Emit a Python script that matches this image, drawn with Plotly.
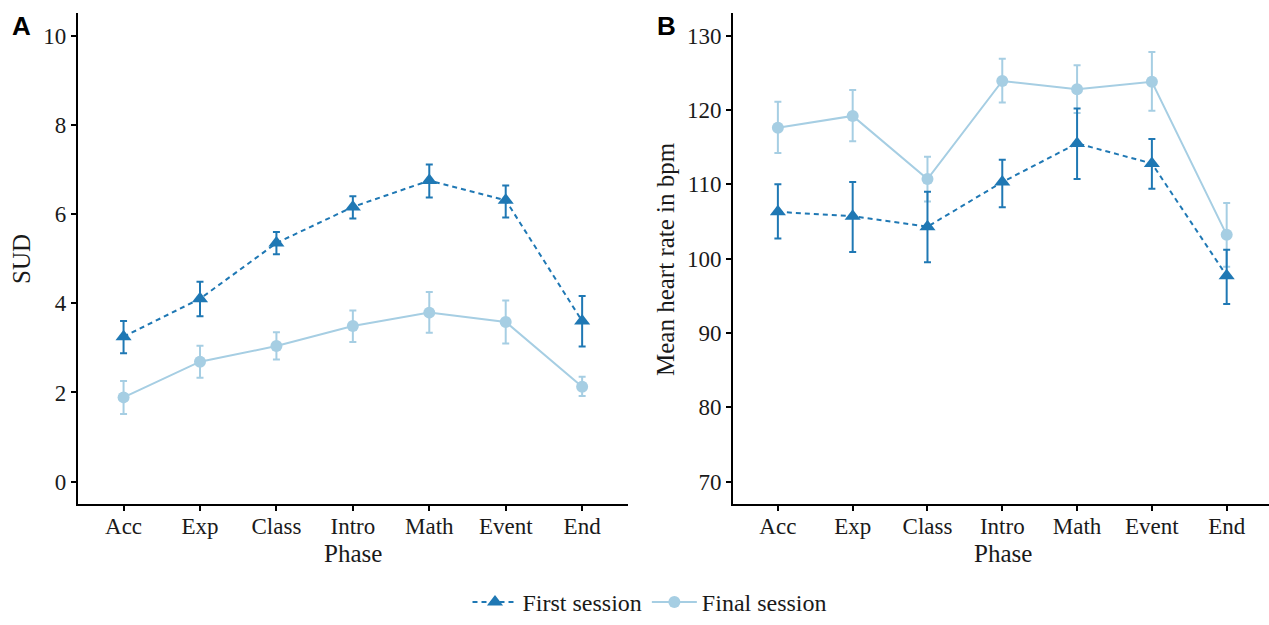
import plotly.graph_objects as go

phases = ["Acc", "Exp", "Class", "Intro", "Math", "Event", "End"]

# Panel A: SUD
sud_first = [3.25, 4.10, 5.35, 6.16, 6.75, 6.31, 3.60]
sud_first_hi = [3.60, 4.48, 5.60, 6.40, 7.11, 6.64, 4.16]
sud_first_lo = [2.88, 3.71, 5.10, 5.90, 6.37, 5.92, 3.03]
sud_final = [1.89, 2.69, 3.04, 3.49, 3.79, 3.58, 2.13]
sud_final_hi = [2.26, 3.05, 3.35, 3.84, 4.25, 4.06, 2.35]
sud_final_lo = [1.52, 2.33, 2.74, 3.13, 3.34, 3.10, 1.92]

# Panel B: mean heart rate
hr_first = [106.3, 105.7, 104.3, 110.3, 115.5, 112.8, 97.7]
hr_first_hi = [110.0, 110.3, 109.0, 113.3, 120.2, 116.1, 101.2]
hr_first_lo = [102.7, 100.9, 99.5, 106.9, 110.7, 109.4, 93.9]
hr_final = [117.6, 119.2, 110.7, 123.9, 122.8, 123.8, 103.2]
hr_final_hi = [121.1, 122.7, 113.7, 126.9, 126.0, 127.8, 107.5]
hr_final_lo = [114.2, 115.8, 107.7, 121.0, 119.6, 119.9, 98.9]

c_first = "#1F78B4"
c_final = "#A6CEE3"
serif = "Liberation Serif"
txt = "#1a1a1a"

fig = go.Figure()


def add_series(x_ax, y_ax, mean, hi, lo, color, symbol, size, dash, name, show, rank):
    fig.add_trace(go.Scatter(
        x=phases, y=mean, xaxis=x_ax, yaxis=y_ax, name=name,
        mode="lines+markers", showlegend=show, legendrank=rank,
        line=dict(color=color, width=2, dash=dash),
        marker=dict(color=color, symbol=symbol, size=size),
        error_y=dict(type="data", symmetric=False,
                     array=[h - m for h, m in zip(hi, mean)],
                     arrayminus=[m - l for m, l in zip(mean, lo)],
                     color=color, thickness=2, width=3.5),
    ))


add_series("x", "y", sud_final, sud_final_hi, sud_final_lo, c_final, "circle", 12, "solid", "Final session", True, 2)
add_series("x", "y", sud_first, sud_first_hi, sud_first_lo, c_first, "triangle-up", 14, "5px,4px", "First session", True, 1)
add_series("x2", "y2", hr_final, hr_final_hi, hr_final_lo, c_final, "circle", 12, "solid", "Final session", False, 2)
add_series("x2", "y2", hr_first, hr_first_hi, hr_first_lo, c_first, "triangle-up", 14, "5px,4px", "First session", False, 1)

W, H = 1269, 625


def fy(y):
    return (H - y) / H


ydom = [fy(504), fy(13.3)]
axcommon = dict(showline=True, linecolor="black", linewidth=1.8, ticks="outside",
                ticklen=5, tickwidth=1.5, tickcolor="black", showgrid=False,
                zeroline=False, tickfont=dict(family=serif, size=23, color=txt),
                automargin=False)


def ann(text, x, y, size, angle=0, family=serif, color=txt):
    return dict(text=text, x=x / W, y=fy(y), xref="paper", yref="paper",
                xanchor="center", yanchor="middle", textangle=angle, showarrow=False,
                font=dict(family=family, size=size, color=color))


fig.update_layout(
    width=W, height=H, margin=dict(l=0, r=0, t=0, b=0, autoexpand=False),
    plot_bgcolor="white", paper_bgcolor="white",
    xaxis=dict(domain=[77.7 / W, 628 / W], range=[-0.6, 6.6], anchor="y",
               type="category", ticklabelstandoff=-5, **axcommon),
    yaxis=dict(domain=ydom, range=[-0.5, 10.5], anchor="x",
               tickvals=[0, 2, 4, 6, 8, 10], **axcommon),
    xaxis2=dict(domain=[733 / W, 1.0], range=[-0.6, -0.6 + 536 / 74.8], anchor="y2",
                type="category", ticklabelstandoff=-5, **axcommon),
    yaxis2=dict(domain=ydom, range=[67, 133], anchor="x2",
                tickvals=[70, 80, 90, 100, 110, 120, 130], **axcommon),
    legend=dict(orientation="h", x=650 / W, xanchor="center", y=0.0, yanchor="bottom",
                itemwidth=45,
                font=dict(family=serif, size=24, color=txt), bgcolor="rgba(0,0,0,0)"),
    annotations=[
        ann("SUD", 21, 259, 25, -90),
        ann("Mean heart rate in bpm", 665, 259, 25, -90),
        ann("Phase", 353, 553, 25),
        ann("Phase", 1003, 553, 25),
        ann("<b>A</b>", 21, 26, 26, family="Liberation Sans", color="black"),
        ann("<b>B</b>", 666, 26, 26, family="Liberation Sans", color="black"),
    ],
)

fig.write_html("out.html", config={"displayModeBar": False},
               post_script="document.body.style.margin='0px';")
